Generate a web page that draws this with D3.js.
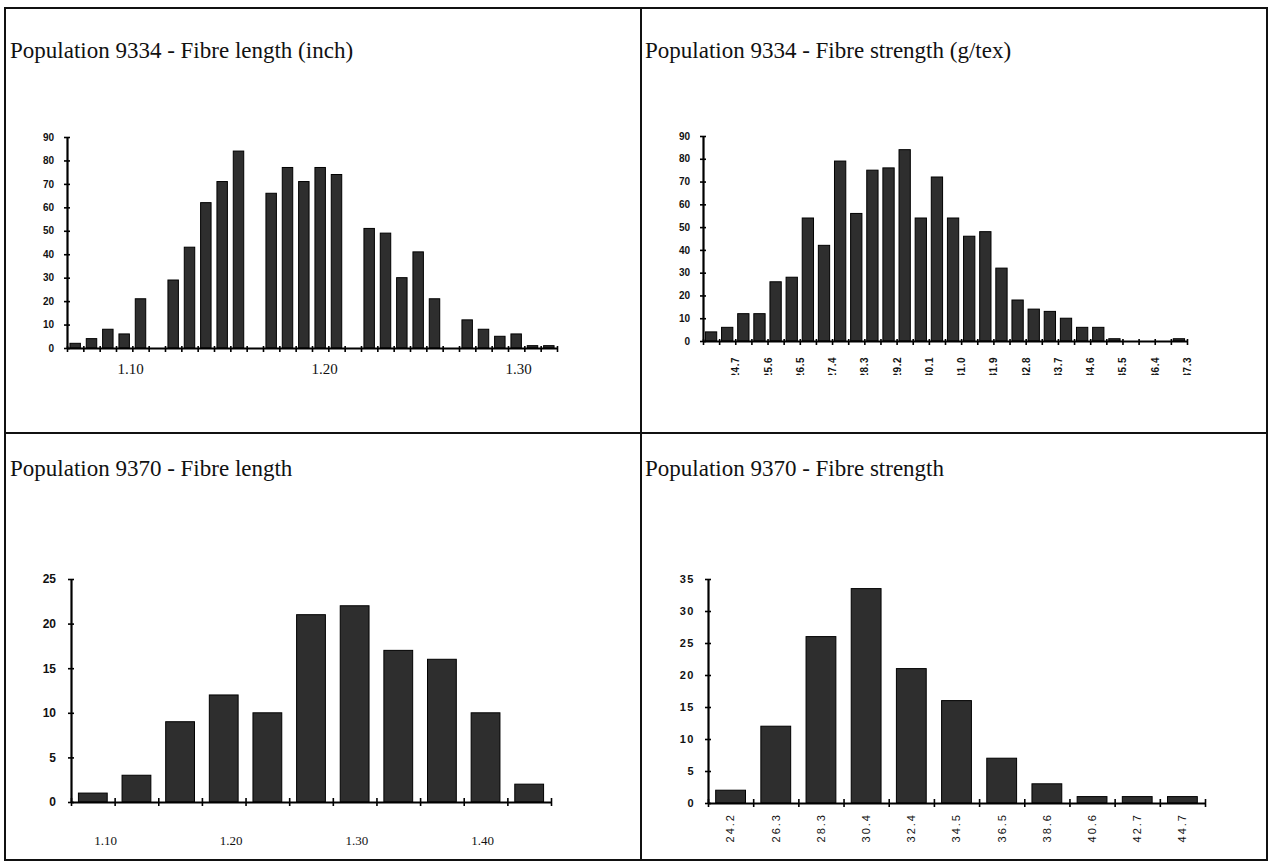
<!DOCTYPE html>
<html>
<head>
<meta charset="utf-8">
<script src="https://cdn.jsdelivr.net/npm/d3@7"></script>
<style>
  body { margin: 0; background: #fff; }
  svg { display: block; }
  .title { font-family: "Liberation Serif", "Times New Roman", serif; font-size: 23px; fill: #111; }
</style>
</head>
<body>
<svg id="chart" width="1272" height="863"></svg>
<script>
// counts per class
const lengthCounts9334 = [2, 4, 8, 6, 21, 0, 29, 43, 62, 71, 84, 0, 66, 77, 71, 77, 74, 0, 51, 49, 30, 41, 21, 0, 12, 8, 5, 6, 1, 1];
const strengthCounts9334 = [4, 6, 12, 12, 26, 28, 54, 42, 79, 56, 75, 76, 84, 54, 72, 54, 46, 48, 32, 18, 14, 13, 10, 6, 6, 1, 0, 0, 0, 1];
const lengthCounts9370 = [1, 3, 9, 12, 10, 21, 22, 17, 16, 10, 2];
const strengthCounts9370 = [2, 12, 26, 33.5, 21, 16, 7, 3, 1, 1, 1];

// x extents and tick labels
const lengthDomain9334 = [1.0675, 1.320];
const lengthTicks9334 = [1.10, 1.20, 1.30];
const strengthDomain9334 = [23.8, 37.3];
const strengthTicks9334 = [24.7, 25.6, 26.5, 27.4, 28.3, 29.2, 30.1, 31.0, 31.9, 32.8, 33.7, 34.6, 35.5, 36.4, 37.3];
const lengthDomain9370 = [1.0729, 1.4549];
const lengthTicks9370 = [1.10, 1.20, 1.30, 1.40];
const strengthTicks9370 = ["24.2", "26.3", "28.3", "30.4", "32.4", "34.5", "36.5", "38.6", "40.6", "42.7", "44.7"];

const svg = d3.select("#chart");
const sans = '"Liberation Sans", Arial, sans-serif';
const serif = '"Liberation Serif", "Times New Roman", serif';

// frame of the figure
let frame = svg.append("g").attr("stroke", "#111").attr("stroke-width", 2).attr("fill", "none");
frame.append("rect").attr("x", 5).attr("y", 8).attr("width", 1262).attr("height", 852);
frame.append("line").attr("x1", 641).attr("x2", 641).attr("y1", 8).attr("y2", 860);
frame.append("line").attr("x1", 5).attr("x2", 1267).attr("y1", 433).attr("y2", 433);

let drawPanel = (p) => {
  let g = svg.append("g");
  let n = p.counts.length;

  g.append("text").attr("class", "title").attr("x", p.tx).attr("y", p.ty).text(p.title);

  let band = d3.scaleBand().domain(d3.range(n)).range([p.x0, p.x1])
               .paddingInner(p.pad).paddingOuter(p.pad / 2);
  let edge = d3.scaleLinear().domain([0, n]).range([p.x0, p.x1]);
  let y = d3.scaleLinear().domain([0, p.yMax]).range([p.y0, p.yTop]);

  g.selectAll(".bar")
   .data(p.counts.map((c, i) => ({ c, i })).filter(d => d.c > 0))
   .join("rect")
   .attr("class", "bar")
   .attr("x", d => band(d.i))
   .attr("width", band.bandwidth())
   .attr("y", d => y(d.c))
   .attr("height", d => p.y0 - y(d.c))
   .attr("fill", "#2e2e2e")
   .attr("stroke", "#000")
   .attr("stroke-width", 1);

  // value axis, ticks cross the line
  let yAxis = d3.axisLeft(y).tickValues(d3.range(0, p.yMax + 1, p.yStep))
                .tickSize(3).tickSizeOuter(0).tickPadding(p.yPad);
  let ya = g.append("g").attr("transform", `translate(${p.x0},0)`).call(yAxis);
  ya.select(".domain").attr("stroke", "#000").attr("stroke-width", 2.2);
  ya.selectAll(".tick line").attr("x1", 3).attr("stroke", "#000").attr("stroke-width", 1.6);
  ya.selectAll(".tick text")
    .style("font-family", sans).style("font-weight", "bold")
    .style("font-size", p.yFont + "px").style("letter-spacing", p.ySpacing + "px")
    .attr("fill", "#111");

  // class boundaries along the base line
  let xAxis = d3.axisBottom(edge).tickValues(d3.range(0, n + 1))
                .tickSize(4).tickSizeOuter(0).tickFormat("");
  let xa = g.append("g").attr("transform", `translate(0,${p.y0})`).call(xAxis);
  xa.select(".domain").attr("stroke", "#000").attr("stroke-width", 2.2);
  xa.selectAll(".tick line").attr("y1", -p.tickUp).attr("stroke", "#000").attr("stroke-width", 1.6);

  p.drawLabels(g, band);
};

let plainLabels = (domain, ticks, x0, x1, y0, offset, size) => (g) => {
  let lx = d3.scaleLinear().domain(domain).range([x0, x1]);
  let la = g.append("g").attr("transform", `translate(0,${y0})`)
            .call(d3.axisBottom(lx).tickValues(ticks).tickSize(0).tickFormat(d3.format(".2f")));
  la.select(".domain").remove();
  la.selectAll("text").attr("y", offset).attr("dy", 0)
    .style("font-family", serif).style("font-size", size + "px").attr("fill", "#111");
};

let rotateLabels = (la, offset, size, spacing, bold) => {
  la.select(".domain").remove();
  la.selectAll("text")
    .attr("transform", "rotate(-90)")
    .attr("text-anchor", "end")
    .attr("x", -offset).attr("y", 0).attr("dy", "0.35em")
    .style("font-family", sans).style("font-weight", bold ? "bold" : "normal")
    .style("font-size", size + "px").style("letter-spacing", spacing + "px")
    .attr("fill", "#111");
};

// the strength labels of 9334 lose their first digit in the original; the clip box sits in the axis's own space
svg.append("defs").append("clipPath").attr("id", "cutLabels")
   .append("rect").attr("x", 690).attr("y", 3).attr("width", 510).attr("height", 31);

drawPanel({
  title: "Population 9334 - Fibre length (inch)", tx: 10, ty: 58,
  counts: lengthCounts9334, yMax: 90, yStep: 10,
  x0: 67, x1: 557, y0: 348, yTop: 137, pad: 0.36, tickUp: 2,
  yFont: 10, ySpacing: 0, yPad: 10,
  drawLabels: (g) => plainLabels(lengthDomain9334, lengthTicks9334, 67, 557, 348, 26, 15)(g)
});

drawPanel({
  title: "Population 9334 - Fibre strength (g/tex)", tx: 645, ty: 58,
  counts: strengthCounts9334, yMax: 90, yStep: 10,
  x0: 703, x1: 1187, y0: 341, yTop: 136, pad: 0.3, tickUp: 2,
  yFont: 10, ySpacing: 0, yPad: 10,
  drawLabels: (g) => {
    let lx = d3.scaleLinear().domain(strengthDomain9334).range([703, 1187]);
    let la = g.append("g").attr("transform", "translate(0,341)").attr("clip-path", "url(#cutLabels)")
              .call(d3.axisBottom(lx).tickValues(strengthTicks9334).tickSize(0).tickFormat(d3.format(".1f")));
    rotateLabels(la, 16, 10, 0.5, true);
  }
});

drawPanel({
  title: "Population 9370 - Fibre length", tx: 10, ty: 476,
  counts: lengthCounts9370, yMax: 25, yStep: 5,
  x0: 71, x1: 551, y0: 802, yTop: 579, pad: 0.34, tickUp: 4,
  yFont: 12, ySpacing: 0, yPad: 12,
  drawLabels: (g) => plainLabels(lengthDomain9370, lengthTicks9370, 71, 551, 802, 43, 13)(g)
});

drawPanel({
  title: "Population 9370 - Fibre strength", tx: 645, ty: 476,
  counts: strengthCounts9370, yMax: 35, yStep: 5,
  x0: 708, x1: 1205, y0: 803, yTop: 579, pad: 0.34, tickUp: 4,
  yFont: 11, ySpacing: 1.5, yPad: 10,
  drawLabels: (g, band) => {
    let la = g.append("g").attr("transform", "translate(0,803)")
              .call(d3.axisBottom(band).tickSize(0).tickFormat(i => strengthTicks9370[i]));
    rotateLabels(la, 10, 11, 2, false);
  }
});
</script>
</body>
</html>
